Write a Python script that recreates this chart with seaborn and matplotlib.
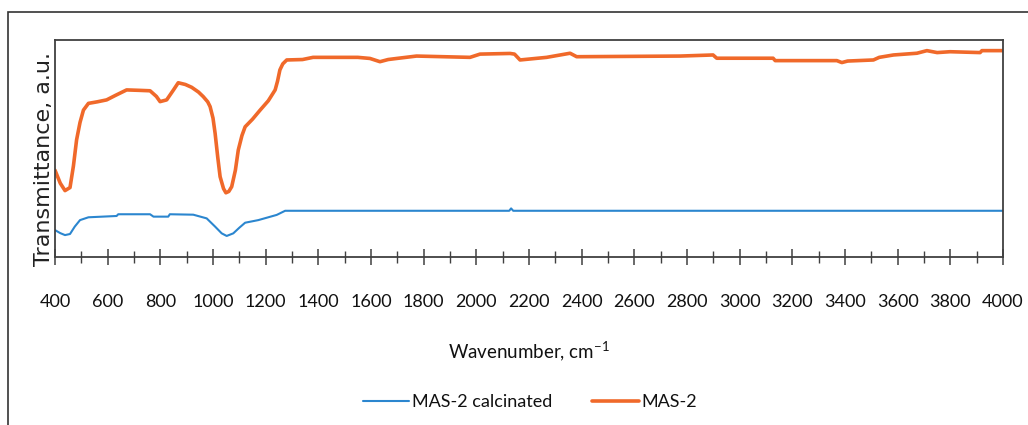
import matplotlib
matplotlib.use("Agg")
import matplotlib.pyplot as plt
from matplotlib.lines import Line2D
from matplotlib.patches import Rectangle
import seaborn as sns
import pandas as pd

# FTIR spectra, wavenumber in cm^-1, transmittance in arbitrary units
mas2_wn = [400, 420, 438, 457, 470, 482, 495, 508, 527, 560,
           596, 630, 672, 720, 761, 785, 799, 824, 850, 868,
           895, 919, 945, 963, 980, 989, 1000, 1008, 1018, 1027,
           1040, 1049, 1060, 1071, 1085, 1096, 1110, 1122, 1150, 1179,
           1210, 1236, 1245, 1254, 1265, 1280, 1340, 1380, 1550, 1596,
           1634, 1665, 1698, 1773, 1976, 2014, 2128, 2145, 2166, 2267,
           2356, 2381, 2774, 2899, 2913, 3127, 3135, 3369, 3388, 3410,
           3508, 3530, 3584, 3673, 3711, 3750, 3799, 3913, 3920, 4000]
mas2_t = [40, 34, 30.6, 32, 42, 54, 62, 67.7, 70.8, 71.5,
          72.4, 74.5, 77, 76.8, 76.6, 74, 71.6, 72.4, 77, 80.3,
          79.5, 78.2, 76, 73.9, 71.5, 69.3, 64, 57, 46, 37,
          31.5, 29.6, 30.2, 32.4, 40, 49.3, 56, 60, 63.5, 67.7,
          72, 77, 81, 86.2, 89, 90.8, 91, 92, 92, 91.5,
          90, 91, 91.5, 92.6, 92, 93.5, 93.8, 93.5, 90.8, 92,
          93.9, 92.3, 92.6, 93.1, 91.6, 91.6, 90.5, 90.5, 89.6, 90.3,
          90.8, 92, 93.1, 93.9, 95.1, 94.2, 94.6, 94.2, 95.1, 95.1]

calc_wn = [400, 420, 438, 457, 475, 495, 527, 634, 640, 761,
           774, 830, 836, 925, 976, 1008, 1033, 1052, 1077, 1100,
           1122, 1172, 1242, 1274, 2125, 2132, 2140, 4000]
calc_t = [12.4, 11, 10.1, 10.6, 14, 17, 18.3, 18.9, 19.7, 19.7,
          18.6, 18.6, 19.7, 19.5, 17.8, 14, 10.9, 9.7, 10.9, 13.5,
          15.8, 17, 19.4, 21.3, 21.3, 22.4, 21.3, 21.3]

series_names = ["MAS-2 calcinated", "MAS-2"]
x_ticks = list(range(400, 4001, 200))

BLUE = "#2b86cf"
ORANGE = "#f0692a"
DARK = "#404040"

sns.set_theme(style="white")
plt.rcParams["font.family"] = ["Lato", "DejaVu Sans"]
plt.rcParams["mathtext.default"] = "regular"

fig = plt.figure(figsize=(10.28, 4.25), dpi=100)
ax = fig.add_axes([55 / 1028, 1 - 257 / 425, 948 / 1028, 217 / 425])

df_calc = pd.DataFrame({"wn": calc_wn, "t": calc_t})
df_mas = pd.DataFrame({"wn": mas2_wn, "t": mas2_t})
sns.lineplot(data=df_calc, x="wn", y="t", ax=ax, color=BLUE, linewidth=1.5)
sns.lineplot(data=df_mas, x="wn", y="t", ax=ax, color=ORANGE, linewidth=2.6)

ax.set_xlim(400, 4000)
ax.set_ylim(0, 100)
ax.set_xticks(x_ticks)
ax.set_xticks(list(range(500, 4000, 200)), minor=True)
ax.set_yticks([])
ax.tick_params(axis="x", which="major", direction="inout", length=11.5,
               width=1.1, color=DARK, pad=21, labelsize=13, labelcolor="#111111",
               bottom=True)
ax.tick_params(axis="x", which="minor", direction="inout", length=8,
               width=1.0, color=DARK, bottom=True)
for s in ax.spines.values():
    s.set_color(DARK)
    s.set_linewidth(1.3)

ax.set_xlabel("Wavenumber, cm$^{-1}$", fontsize=13.5, color="#111111", labelpad=21)
ax.set_ylabel("Transmittance, a.u.", fontsize=16, color="#222222",
              family=["DejaVu Sans"])
ax.yaxis.set_label_coords(-0.001, 0.45)

handles = [Line2D([], [], color=BLUE, linewidth=1.5),
           Line2D([], [], color=ORANGE, linewidth=2.6)]
fig.legend(handles, series_names, loc="center", bbox_to_anchor=(530 / 1028, 1 - 402 / 425),
           ncol=2, frameon=False, fontsize=13, handlelength=2.6, handletextpad=0.15,
           columnspacing=2.2, labelcolor="#111111")

# outer frame around the figure
fig.patches.append(Rectangle((8 / 1028, -0.1), 1.2, 1 - 12 / 425 + 0.1,
                             transform=fig.transFigure, fill=False,
                             edgecolor="#333333", linewidth=1.2))

fig.savefig("out.png", dpi=100)
